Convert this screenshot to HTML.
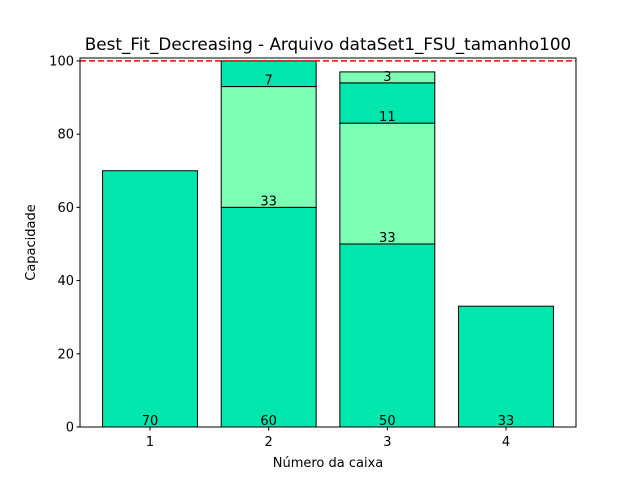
<!DOCTYPE html>
<html><head><meta charset="utf-8"><style>
body{margin:0;background:#fff;}
svg text{font-family:"DejaVu Sans","Liberation Sans",sans-serif;}
</style></head><body>
<svg id="chart" width="640" height="480" xmlns="http://www.w3.org/2000/svg"></svg>
<script>
const categories = [1, 2, 3, 4];
// stacked segments per bin, bottom to top
const segValues = [[70], [60, 33, 7], [50, 33, 11, 3], [33]];
const segColors = [["#00E6AC"], ["#00E6AC", "#7AFFB4", "#00E6AC"], ["#00E6AC", "#7AFFB4", "#00E6AC", "#7AFFB4"], ["#00E6AC"]];
const yTicks = [0, 20, 40, 60, 80, 100];
const capacity = 100;

const L = 80, R = 576, T = 58, B = 427;
const xMin = 0.41, xMax = 4.59, yMin = 0, yMax = 100.8;
const xs = v => L + (v - xMin) / (xMax - xMin) * (R - L);
const ys = v => B - (v - yMin) / (yMax - yMin) * (B - T);
const svg = document.getElementById('chart');
const NS = 'http://www.w3.org/2000/svg';
function mk(tag, attrs, text) {
  const e = document.createElementNS(NS, tag);
  for (const k in attrs) e.setAttribute(k, attrs[k]);
  if (text !== undefined) e.textContent = text;
  svg.appendChild(e);
  return e;
}

categories.forEach((c, i) => {
  let base = 0;
  segValues[i].forEach((v, j) => {
    const x0 = xs(c - 0.4), x1 = xs(c + 0.4);
    const r = mk('rect', {x: x0, y: ys(base + v), width: x1 - x0, height: ys(base) - ys(base + v), fill: segColors[i][j], stroke: '#000', 'stroke-width': 1});
    
    
    const t = mk('text', {x: xs(c), y: ys(base) - 2, 'text-anchor': 'middle', 'font-size': 13, fill: '#000'}, String(v));
    
    
    base += v;
  });
});

const hl = mk('line', {x1: L, x2: R, y1: ys(capacity), y2: ys(capacity), stroke: '#ff0000', 'stroke-width': 1.5, 'stroke-dasharray': '6,3'});



const frame = mk('rect', {x: L, y: T, width: R - L, height: B - T, fill: 'none', stroke: '#000', 'stroke-width': 1});



yTicks.forEach(v => {
  const y = ys(v);
  const tk = mk('line', {x1: L - 3.5, x2: L, y1: y, y2: y, stroke: '#000'});
  
  
  const tl = mk('text', {x: L - 6, y: y + 4.5, 'text-anchor': 'end', 'font-size': 13}, String(v));
  
  
});
categories.forEach(c => {
  const x = xs(c);
  const tk = mk('line', {x1: x, x2: x, y1: B, y2: B + 3.5, stroke: '#000'});
  
  
  const tl = mk('text', {x: x, y: B + 19, 'text-anchor': 'middle', 'font-size': 13}, String(c));
  
  
});

const xt = mk('text', {x: (L + R) / 2, y: 467, 'text-anchor': 'middle', 'font-size': 13}, 'Número da caixa');


const yt = mk('text', {x: 35, y: (T + B) / 2, 'text-anchor': 'middle', 'font-size': 13, transform: 'rotate(-90 35 ' + (T + B) / 2 + ')'}, 'Capacidade');


const tt = mk('text', {x: (L + R) / 2, y: 50, 'text-anchor': 'middle', 'font-size': 16.8}, 'Best_Fit_Decreasing - Arquivo dataSet1_FSU_tamanho100');


</script>
</body></html>
